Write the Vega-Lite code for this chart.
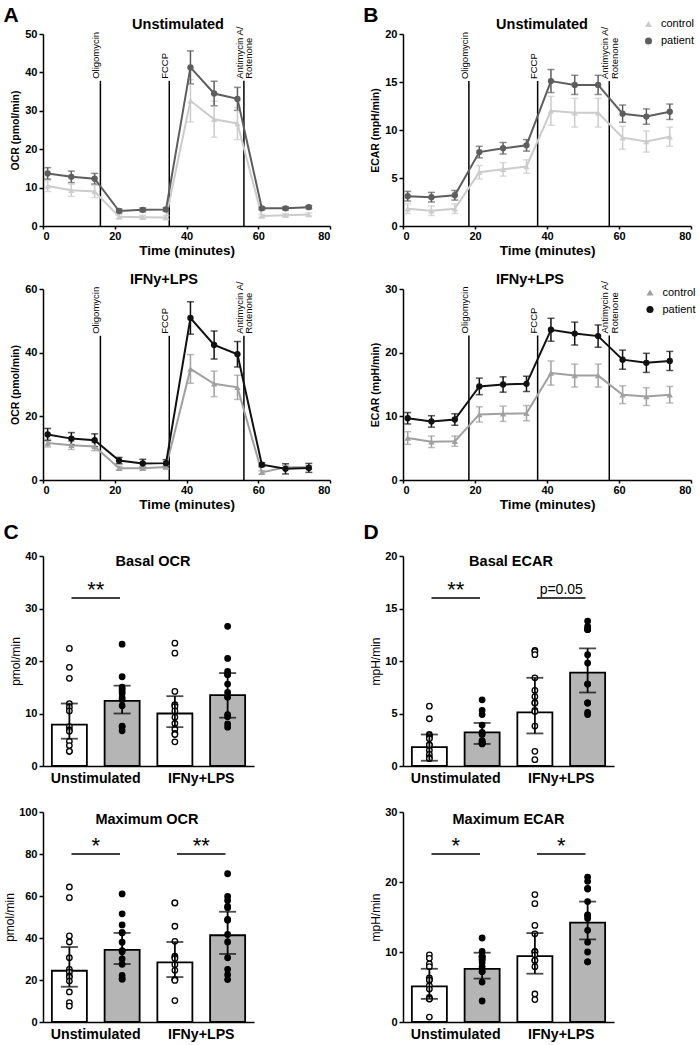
{
"$schema": "https://vega.github.io/schema/vega-lite/v6.json",
"background": "white",
"padding": {"left": 3, "top": 4, "right": 5, "bottom": 5},
"autosize": {"type": "pad"},
"bounds": "flush",
"columns": 2,
"align": "each",
"spacing": {"row": 20, "column": 73},
"resolve": {"scale": {"color": "independent", "fill": "independent", "stroke": "independent", "shape": "independent", "xOffset": "independent"}},
"config": {
  "font": "Liberation Sans",
  "view": {"stroke": null},
  "axis": {"grid": false, "domainColor": "#000", "domainWidth": 1.5, "tickColor": "#000", "tickWidth": 1.5, "tickSize": 4, "labelColor": "#000", "labelFont": "Liberation Sans", "labelFontWeight": "bold", "labelFontSize": 11, "labelPadding": 2, "titleColor": "#000", "titleFont": "Liberation Sans", "titleFontWeight": "bold"},
  "title": {"font": "Liberation Sans", "fontWeight": "bold", "fontSize": 14.5, "color": "#000", "anchor": "middle", "frame": "group", "offset": 0, "baseline": "alphabetic"},
  "legend": {"labelFont": "Liberation Sans", "labelColor": "#000", "labelFontSize": 11}
},
"datasets": {
  "injections": [
    {"assay": "OCR", "drug": "Oligomycin", "time": 16},
    {"assay": "OCR", "drug": "FCCP", "time": 35.2},
    {"assay": "OCR", "drug": "Antimycin A/\nRotenone", "time": 56},
    {"assay": "ECAR", "drug": "Oligomycin", "time": 18.3},
    {"assay": "ECAR", "drug": "FCCP", "time": 37.4},
    {"assay": "ECAR", "drug": "Antimycin A/\nRotenone", "time": 57.3}
  ],
  "seahorse": [
    {"assay":"OCR","condition":"Unstimulated","group":"control","time":1.3,"value":10.4,"err":1.4},
    {"assay":"OCR","condition":"Unstimulated","group":"control","time":7.9,"value":9.3,"err":1.6},
    {"assay":"OCR","condition":"Unstimulated","group":"control","time":14.4,"value":9.0,"err":1.6},
    {"assay":"OCR","condition":"Unstimulated","group":"control","time":21.2,"value":2.4,"err":0.5},
    {"assay":"OCR","condition":"Unstimulated","group":"control","time":27.8,"value":2.3,"err":0.5},
    {"assay":"OCR","condition":"Unstimulated","group":"control","time":34.3,"value":2.2,"err":0.5},
    {"assay":"OCR","condition":"Unstimulated","group":"control","time":41.1,"value":32.6,"err":5.5},
    {"assay":"OCR","condition":"Unstimulated","group":"control","time":47.7,"value":27.8,"err":4.7},
    {"assay":"OCR","condition":"Unstimulated","group":"control","time":54.2,"value":26.7,"err":4.2},
    {"assay":"OCR","condition":"Unstimulated","group":"control","time":61.0,"value":2.6,"err":0.4},
    {"assay":"OCR","condition":"Unstimulated","group":"control","time":67.6,"value":2.8,"err":0.4},
    {"assay":"OCR","condition":"Unstimulated","group":"control","time":74.1,"value":3.0,"err":0.4},
    {"assay":"OCR","condition":"Unstimulated","group":"patient","time":1.3,"value":13.7,"err":1.5},
    {"assay":"OCR","condition":"Unstimulated","group":"patient","time":7.9,"value":12.8,"err":1.5},
    {"assay":"OCR","condition":"Unstimulated","group":"patient","time":14.4,"value":12.3,"err":1.4},
    {"assay":"OCR","condition":"Unstimulated","group":"patient","time":21.2,"value":3.9,"err":0.5},
    {"assay":"OCR","condition":"Unstimulated","group":"patient","time":27.8,"value":4.2,"err":0.5},
    {"assay":"OCR","condition":"Unstimulated","group":"patient","time":34.3,"value":4.3,"err":0.5},
    {"assay":"OCR","condition":"Unstimulated","group":"patient","time":41.1,"value":41.3,"err":4.3},
    {"assay":"OCR","condition":"Unstimulated","group":"patient","time":47.7,"value":34.5,"err":3.2},
    {"assay":"OCR","condition":"Unstimulated","group":"patient","time":54.2,"value":33.1,"err":3.0},
    {"assay":"OCR","condition":"Unstimulated","group":"patient","time":61.0,"value":4.6,"err":0.4},
    {"assay":"OCR","condition":"Unstimulated","group":"patient","time":67.6,"value":4.6,"err":0.4},
    {"assay":"OCR","condition":"Unstimulated","group":"patient","time":74.1,"value":4.9,"err":0.4},
    {"assay":"ECAR","condition":"Unstimulated","group":"control","time":1.3,"value":1.8,"err":0.5},
    {"assay":"ECAR","condition":"Unstimulated","group":"control","time":7.9,"value":1.6,"err":0.5},
    {"assay":"ECAR","condition":"Unstimulated","group":"control","time":14.4,"value":1.8,"err":0.5},
    {"assay":"ECAR","condition":"Unstimulated","group":"control","time":21.2,"value":5.6,"err":0.7},
    {"assay":"ECAR","condition":"Unstimulated","group":"control","time":27.8,"value":5.9,"err":0.7},
    {"assay":"ECAR","condition":"Unstimulated","group":"control","time":34.3,"value":6.2,"err":0.7},
    {"assay":"ECAR","condition":"Unstimulated","group":"control","time":41.1,"value":12.0,"err":1.5},
    {"assay":"ECAR","condition":"Unstimulated","group":"control","time":47.7,"value":11.8,"err":1.5},
    {"assay":"ECAR","condition":"Unstimulated","group":"control","time":54.2,"value":11.8,"err":1.5},
    {"assay":"ECAR","condition":"Unstimulated","group":"control","time":61.0,"value":9.2,"err":1.2},
    {"assay":"ECAR","condition":"Unstimulated","group":"control","time":67.6,"value":8.8,"err":1.1},
    {"assay":"ECAR","condition":"Unstimulated","group":"control","time":74.1,"value":9.3,"err":1.0},
    {"assay":"ECAR","condition":"Unstimulated","group":"patient","time":1.3,"value":3.1,"err":0.5},
    {"assay":"ECAR","condition":"Unstimulated","group":"patient","time":7.9,"value":3.0,"err":0.5},
    {"assay":"ECAR","condition":"Unstimulated","group":"patient","time":14.4,"value":3.2,"err":0.5},
    {"assay":"ECAR","condition":"Unstimulated","group":"patient","time":21.2,"value":7.7,"err":0.6},
    {"assay":"ECAR","condition":"Unstimulated","group":"patient","time":27.8,"value":8.1,"err":0.6},
    {"assay":"ECAR","condition":"Unstimulated","group":"patient","time":34.3,"value":8.4,"err":0.6},
    {"assay":"ECAR","condition":"Unstimulated","group":"patient","time":41.1,"value":15.1,"err":1.2},
    {"assay":"ECAR","condition":"Unstimulated","group":"patient","time":47.7,"value":14.7,"err":1.0},
    {"assay":"ECAR","condition":"Unstimulated","group":"patient","time":54.2,"value":14.7,"err":1.0},
    {"assay":"ECAR","condition":"Unstimulated","group":"patient","time":61.0,"value":11.7,"err":0.9},
    {"assay":"ECAR","condition":"Unstimulated","group":"patient","time":67.6,"value":11.4,"err":0.8},
    {"assay":"ECAR","condition":"Unstimulated","group":"patient","time":74.1,"value":11.9,"err":0.8},
    {"assay":"OCR","condition":"IFNy+LPS","group":"control","time":1.3,"value":11.6,"err":1.2},
    {"assay":"OCR","condition":"IFNy+LPS","group":"control","time":7.9,"value":10.9,"err":1.3},
    {"assay":"OCR","condition":"IFNy+LPS","group":"control","time":14.4,"value":10.5,"err":1.3},
    {"assay":"OCR","condition":"IFNy+LPS","group":"control","time":21.2,"value":3.7,"err":0.6},
    {"assay":"OCR","condition":"IFNy+LPS","group":"control","time":27.8,"value":3.7,"err":0.5},
    {"assay":"OCR","condition":"IFNy+LPS","group":"control","time":34.3,"value":4.1,"err":0.5},
    {"assay":"OCR","condition":"IFNy+LPS","group":"control","time":41.1,"value":34.9,"err":4.5},
    {"assay":"OCR","condition":"IFNy+LPS","group":"control","time":47.7,"value":30.2,"err":4.0},
    {"assay":"OCR","condition":"IFNy+LPS","group":"control","time":54.2,"value":29.1,"err":3.8},
    {"assay":"OCR","condition":"IFNy+LPS","group":"control","time":61.0,"value":2.4,"err":0.5},
    {"assay":"OCR","condition":"IFNy+LPS","group":"control","time":67.6,"value":4.0,"err":0.5},
    {"assay":"OCR","condition":"IFNy+LPS","group":"control","time":74.1,"value":4.0,"err":0.5},
    {"assay":"OCR","condition":"IFNy+LPS","group":"patient","time":1.3,"value":14.3,"err":1.9},
    {"assay":"OCR","condition":"IFNy+LPS","group":"patient","time":7.9,"value":13.0,"err":1.9},
    {"assay":"OCR","condition":"IFNy+LPS","group":"patient","time":14.4,"value":12.5,"err":2.0},
    {"assay":"OCR","condition":"IFNy+LPS","group":"patient","time":21.2,"value":6.1,"err":1.0},
    {"assay":"OCR","condition":"IFNy+LPS","group":"patient","time":27.8,"value":5.2,"err":1.3},
    {"assay":"OCR","condition":"IFNy+LPS","group":"patient","time":34.3,"value":5.3,"err":1.1},
    {"assay":"OCR","condition":"IFNy+LPS","group":"patient","time":41.1,"value":50.9,"err":5.1},
    {"assay":"OCR","condition":"IFNy+LPS","group":"patient","time":47.7,"value":42.4,"err":4.4},
    {"assay":"OCR","condition":"IFNy+LPS","group":"patient","time":54.2,"value":39.5,"err":4.0},
    {"assay":"OCR","condition":"IFNy+LPS","group":"patient","time":61.0,"value":4.8,"err":0.6},
    {"assay":"OCR","condition":"IFNy+LPS","group":"patient","time":67.6,"value":3.5,"err":1.6},
    {"assay":"OCR","condition":"IFNy+LPS","group":"patient","time":74.1,"value":3.8,"err":1.4},
    {"assay":"ECAR","condition":"IFNy+LPS","group":"control","time":1.3,"value":6.6,"err":1.0},
    {"assay":"ECAR","condition":"IFNy+LPS","group":"control","time":7.9,"value":6.0,"err":0.9},
    {"assay":"ECAR","condition":"IFNy+LPS","group":"control","time":14.4,"value":6.1,"err":0.8},
    {"assay":"ECAR","condition":"IFNy+LPS","group":"control","time":21.2,"value":10.3,"err":1.2},
    {"assay":"ECAR","condition":"IFNy+LPS","group":"control","time":27.8,"value":10.4,"err":1.2},
    {"assay":"ECAR","condition":"IFNy+LPS","group":"control","time":34.3,"value":10.5,"err":1.2},
    {"assay":"ECAR","condition":"IFNy+LPS","group":"control","time":41.1,"value":16.8,"err":1.9},
    {"assay":"ECAR","condition":"IFNy+LPS","group":"control","time":47.7,"value":16.4,"err":1.8},
    {"assay":"ECAR","condition":"IFNy+LPS","group":"control","time":54.2,"value":16.4,"err":1.8},
    {"assay":"ECAR","condition":"IFNy+LPS","group":"control","time":61.0,"value":13.4,"err":1.4},
    {"assay":"ECAR","condition":"IFNy+LPS","group":"control","time":67.6,"value":13.1,"err":1.4},
    {"assay":"ECAR","condition":"IFNy+LPS","group":"control","time":74.1,"value":13.4,"err":1.3},
    {"assay":"ECAR","condition":"IFNy+LPS","group":"patient","time":1.3,"value":9.7,"err":0.9},
    {"assay":"ECAR","condition":"IFNy+LPS","group":"patient","time":7.9,"value":9.2,"err":0.9},
    {"assay":"ECAR","condition":"IFNy+LPS","group":"patient","time":14.4,"value":9.5,"err":0.9},
    {"assay":"ECAR","condition":"IFNy+LPS","group":"patient","time":21.2,"value":14.7,"err":1.3},
    {"assay":"ECAR","condition":"IFNy+LPS","group":"patient","time":27.8,"value":15.0,"err":1.2},
    {"assay":"ECAR","condition":"IFNy+LPS","group":"patient","time":34.3,"value":15.1,"err":1.2},
    {"assay":"ECAR","condition":"IFNy+LPS","group":"patient","time":41.1,"value":23.6,"err":1.8},
    {"assay":"ECAR","condition":"IFNy+LPS","group":"patient","time":47.7,"value":23.0,"err":1.8},
    {"assay":"ECAR","condition":"IFNy+LPS","group":"patient","time":54.2,"value":22.6,"err":1.75},
    {"assay":"ECAR","condition":"IFNy+LPS","group":"patient","time":61.0,"value":18.9,"err":1.5},
    {"assay":"ECAR","condition":"IFNy+LPS","group":"patient","time":67.6,"value":18.4,"err":1.5},
    {"assay":"ECAR","condition":"IFNy+LPS","group":"patient","time":74.1,"value":18.7,"err":1.5}
  ],
  "bars": [
    {"panel":"bo","condition":"Unstimulated","group":"control","median":7.9,"q1":5.2,"q3":11.9},
    {"panel":"bo","condition":"Unstimulated","group":"patient","median":12.4,"q1":10.0,"q3":15.3},
    {"panel":"bo","condition":"IFNy+LPS","group":"control","median":10.0,"q1":7.4,"q3":13.3},
    {"panel":"bo","condition":"IFNy+LPS","group":"patient","median":13.5,"q1":9.2,"q3":17.7},
    {"panel":"be","condition":"Unstimulated","group":"control","median":1.8,"q1":0.5,"q3":3.0},
    {"panel":"be","condition":"Unstimulated","group":"patient","median":3.2,"q1":2.1,"q3":4.1},
    {"panel":"be","condition":"IFNy+LPS","group":"control","median":5.1,"q1":3.1,"q3":8.4},
    {"panel":"be","condition":"IFNy+LPS","group":"patient","median":8.9,"q1":7.0,"q3":11.2},
    {"panel":"mo","condition":"Unstimulated","group":"control","median":24.4,"q1":16.8,"q3":35.7},
    {"panel":"mo","condition":"Unstimulated","group":"patient","median":34.3,"q1":27.6,"q3":42.4},
    {"panel":"mo","condition":"IFNy+LPS","group":"control","median":28.4,"q1":21.4,"q3":38.1},
    {"panel":"mo","condition":"IFNy+LPS","group":"patient","median":41.3,"q1":32.4,"q3":52.5},
    {"panel":"me","condition":"Unstimulated","group":"control","median":5.1,"q1":3.3,"q3":7.6},
    {"panel":"me","condition":"Unstimulated","group":"patient","median":7.6,"q1":6.2,"q3":9.9},
    {"panel":"me","condition":"IFNy+LPS","group":"control","median":9.4,"q1":6.9,"q3":12.7},
    {"panel":"me","condition":"IFNy+LPS","group":"patient","median":14.2,"q1":11.8,"q3":17.2}
  ],
  "sig": [
    {"panel":"bo","condition":"Unstimulated","label":"**"},
    {"panel":"be","condition":"Unstimulated","label":"**"},
    {"panel":"be","condition":"IFNy+LPS","label":"p=0.05"},
    {"panel":"mo","condition":"Unstimulated","label":"*"},
    {"panel":"mo","condition":"IFNy+LPS","label":"**"},
    {"panel":"me","condition":"Unstimulated","label":"*"},
    {"panel":"me","condition":"IFNy+LPS","label":"*"}
  ],
  "dots": [
    {"panel":"bo","condition":"Unstimulated","group":"control","value":22.4},
    {"panel":"bo","condition":"Unstimulated","group":"control","value":18.8},
    {"panel":"bo","condition":"Unstimulated","group":"control","value":16.7},
    {"panel":"bo","condition":"Unstimulated","group":"control","value":11.9},
    {"panel":"bo","condition":"Unstimulated","group":"control","value":11.2},
    {"panel":"bo","condition":"Unstimulated","group":"control","value":10.5},
    {"panel":"bo","condition":"Unstimulated","group":"control","value":7.5},
    {"panel":"bo","condition":"Unstimulated","group":"control","value":6.9},
    {"panel":"bo","condition":"Unstimulated","group":"control","value":6.6},
    {"panel":"bo","condition":"Unstimulated","group":"control","value":4.7},
    {"panel":"bo","condition":"Unstimulated","group":"control","value":3.9},
    {"panel":"bo","condition":"Unstimulated","group":"control","value":2.8},
    {"panel":"bo","condition":"Unstimulated","group":"control","value":2.8},
    {"panel":"bo","condition":"Unstimulated","group":"patient","value":23.2},
    {"panel":"bo","condition":"Unstimulated","group":"patient","value":17.0},
    {"panel":"bo","condition":"Unstimulated","group":"patient","value":15.0},
    {"panel":"bo","condition":"Unstimulated","group":"patient","value":14.6},
    {"panel":"bo","condition":"Unstimulated","group":"patient","value":14.2},
    {"panel":"bo","condition":"Unstimulated","group":"patient","value":13.8},
    {"panel":"bo","condition":"Unstimulated","group":"patient","value":13.0},
    {"panel":"bo","condition":"Unstimulated","group":"patient","value":12.6},
    {"panel":"bo","condition":"Unstimulated","group":"patient","value":11.5},
    {"panel":"bo","condition":"Unstimulated","group":"patient","value":7.6},
    {"panel":"bo","condition":"Unstimulated","group":"patient","value":7.5},
    {"panel":"bo","condition":"Unstimulated","group":"patient","value":6.7},
    {"panel":"bo","condition":"IFNy+LPS","group":"control","value":23.4},
    {"panel":"bo","condition":"IFNy+LPS","group":"control","value":21.5},
    {"panel":"bo","condition":"IFNy+LPS","group":"control","value":14.2},
    {"panel":"bo","condition":"IFNy+LPS","group":"control","value":11.7},
    {"panel":"bo","condition":"IFNy+LPS","group":"control","value":11.6},
    {"panel":"bo","condition":"IFNy+LPS","group":"control","value":11.3},
    {"panel":"bo","condition":"IFNy+LPS","group":"control","value":10.5},
    {"panel":"bo","condition":"IFNy+LPS","group":"control","value":9.3},
    {"panel":"bo","condition":"IFNy+LPS","group":"control","value":8.1},
    {"panel":"bo","condition":"IFNy+LPS","group":"control","value":7.0},
    {"panel":"bo","condition":"IFNy+LPS","group":"control","value":6.2},
    {"panel":"bo","condition":"IFNy+LPS","group":"control","value":6.0},
    {"panel":"bo","condition":"IFNy+LPS","group":"control","value":4.6},
    {"panel":"bo","condition":"IFNy+LPS","group":"patient","value":26.6},
    {"panel":"bo","condition":"IFNy+LPS","group":"patient","value":20.5},
    {"panel":"bo","condition":"IFNy+LPS","group":"patient","value":18.0},
    {"panel":"bo","condition":"IFNy+LPS","group":"patient","value":17.5},
    {"panel":"bo","condition":"IFNy+LPS","group":"patient","value":17.4},
    {"panel":"bo","condition":"IFNy+LPS","group":"patient","value":15.6},
    {"panel":"bo","condition":"IFNy+LPS","group":"patient","value":14.0},
    {"panel":"bo","condition":"IFNy+LPS","group":"patient","value":13.2},
    {"panel":"bo","condition":"IFNy+LPS","group":"patient","value":13.1},
    {"panel":"bo","condition":"IFNy+LPS","group":"patient","value":9.8},
    {"panel":"bo","condition":"IFNy+LPS","group":"patient","value":9.4},
    {"panel":"bo","condition":"IFNy+LPS","group":"patient","value":8.0},
    {"panel":"bo","condition":"IFNy+LPS","group":"patient","value":7.4},
    {"panel":"be","condition":"Unstimulated","group":"control","value":5.7},
    {"panel":"be","condition":"Unstimulated","group":"control","value":4.5},
    {"panel":"be","condition":"Unstimulated","group":"control","value":3.0},
    {"panel":"be","condition":"Unstimulated","group":"control","value":2.9},
    {"panel":"be","condition":"Unstimulated","group":"control","value":2.7},
    {"panel":"be","condition":"Unstimulated","group":"control","value":2.6},
    {"panel":"be","condition":"Unstimulated","group":"control","value":2.0},
    {"panel":"be","condition":"Unstimulated","group":"control","value":2.0},
    {"panel":"be","condition":"Unstimulated","group":"control","value":1.5},
    {"panel":"be","condition":"Unstimulated","group":"control","value":1.1},
    {"panel":"be","condition":"Unstimulated","group":"control","value":0.8},
    {"panel":"be","condition":"Unstimulated","group":"control","value":0.7},
    {"panel":"be","condition":"Unstimulated","group":"patient","value":6.3},
    {"panel":"be","condition":"Unstimulated","group":"patient","value":5.3},
    {"panel":"be","condition":"Unstimulated","group":"patient","value":4.9},
    {"panel":"be","condition":"Unstimulated","group":"patient","value":3.9},
    {"panel":"be","condition":"Unstimulated","group":"patient","value":3.2},
    {"panel":"be","condition":"Unstimulated","group":"patient","value":3.1},
    {"panel":"be","condition":"Unstimulated","group":"patient","value":3.0},
    {"panel":"be","condition":"Unstimulated","group":"patient","value":2.4},
    {"panel":"be","condition":"Unstimulated","group":"patient","value":2.4},
    {"panel":"be","condition":"Unstimulated","group":"patient","value":2.2},
    {"panel":"be","condition":"Unstimulated","group":"patient","value":2.2},
    {"panel":"be","condition":"Unstimulated","group":"patient","value":2.2},
    {"panel":"be","condition":"Unstimulated","group":"patient","value":2.1},
    {"panel":"be","condition":"IFNy+LPS","group":"control","value":11.0},
    {"panel":"be","condition":"IFNy+LPS","group":"control","value":10.9},
    {"panel":"be","condition":"IFNy+LPS","group":"control","value":10.6},
    {"panel":"be","condition":"IFNy+LPS","group":"control","value":8.4},
    {"panel":"be","condition":"IFNy+LPS","group":"control","value":7.2},
    {"panel":"be","condition":"IFNy+LPS","group":"control","value":6.6},
    {"panel":"be","condition":"IFNy+LPS","group":"control","value":6.0},
    {"panel":"be","condition":"IFNy+LPS","group":"control","value":6.0},
    {"panel":"be","condition":"IFNy+LPS","group":"control","value":5.3},
    {"panel":"be","condition":"IFNy+LPS","group":"control","value":5.2},
    {"panel":"be","condition":"IFNy+LPS","group":"control","value":3.8},
    {"panel":"be","condition":"IFNy+LPS","group":"control","value":1.4},
    {"panel":"be","condition":"IFNy+LPS","group":"control","value":0.6},
    {"panel":"be","condition":"IFNy+LPS","group":"patient","value":13.8},
    {"panel":"be","condition":"IFNy+LPS","group":"patient","value":13.3},
    {"panel":"be","condition":"IFNy+LPS","group":"patient","value":13.0},
    {"panel":"be","condition":"IFNy+LPS","group":"patient","value":13.0},
    {"panel":"be","condition":"IFNy+LPS","group":"patient","value":13.0},
    {"panel":"be","condition":"IFNy+LPS","group":"patient","value":10.6},
    {"panel":"be","condition":"IFNy+LPS","group":"patient","value":9.8},
    {"panel":"be","condition":"IFNy+LPS","group":"patient","value":7.8},
    {"panel":"be","condition":"IFNy+LPS","group":"patient","value":7.8},
    {"panel":"be","condition":"IFNy+LPS","group":"patient","value":6.0},
    {"panel":"be","condition":"IFNy+LPS","group":"patient","value":6.0},
    {"panel":"be","condition":"IFNy+LPS","group":"patient","value":5.1},
    {"panel":"be","condition":"IFNy+LPS","group":"patient","value":4.9},
    {"panel":"mo","condition":"Unstimulated","group":"control","value":64.3},
    {"panel":"mo","condition":"Unstimulated","group":"control","value":59.2},
    {"panel":"mo","condition":"Unstimulated","group":"control","value":41.0},
    {"panel":"mo","condition":"Unstimulated","group":"control","value":38.1},
    {"panel":"mo","condition":"Unstimulated","group":"control","value":30.6},
    {"panel":"mo","condition":"Unstimulated","group":"control","value":25.1},
    {"panel":"mo","condition":"Unstimulated","group":"control","value":23.8},
    {"panel":"mo","condition":"Unstimulated","group":"control","value":21.9},
    {"panel":"mo","condition":"Unstimulated","group":"control","value":21.4},
    {"panel":"mo","condition":"Unstimulated","group":"control","value":19.5},
    {"panel":"mo","condition":"Unstimulated","group":"control","value":14.3},
    {"panel":"mo","condition":"Unstimulated","group":"control","value":9.2},
    {"panel":"mo","condition":"Unstimulated","group":"control","value":7.6},
    {"panel":"mo","condition":"Unstimulated","group":"patient","value":61.0},
    {"panel":"mo","condition":"Unstimulated","group":"patient","value":51.5},
    {"panel":"mo","condition":"Unstimulated","group":"patient","value":46.2},
    {"panel":"mo","condition":"Unstimulated","group":"patient","value":42.5},
    {"panel":"mo","condition":"Unstimulated","group":"patient","value":42.5},
    {"panel":"mo","condition":"Unstimulated","group":"patient","value":38.0},
    {"panel":"mo","condition":"Unstimulated","group":"patient","value":34.0},
    {"panel":"mo","condition":"Unstimulated","group":"patient","value":33.5},
    {"panel":"mo","condition":"Unstimulated","group":"patient","value":30.0},
    {"panel":"mo","condition":"Unstimulated","group":"patient","value":27.5},
    {"panel":"mo","condition":"Unstimulated","group":"patient","value":22.2},
    {"panel":"mo","condition":"Unstimulated","group":"patient","value":20.6},
    {"panel":"mo","condition":"Unstimulated","group":"patient","value":20.4},
    {"panel":"mo","condition":"IFNy+LPS","group":"control","value":56.7},
    {"panel":"mo","condition":"IFNy+LPS","group":"control","value":56.7},
    {"panel":"mo","condition":"IFNy+LPS","group":"control","value":45.6},
    {"panel":"mo","condition":"IFNy+LPS","group":"control","value":38.4},
    {"panel":"mo","condition":"IFNy+LPS","group":"control","value":31.4},
    {"panel":"mo","condition":"IFNy+LPS","group":"control","value":30.8},
    {"panel":"mo","condition":"IFNy+LPS","group":"control","value":30.2},
    {"panel":"mo","condition":"IFNy+LPS","group":"control","value":27.3},
    {"panel":"mo","condition":"IFNy+LPS","group":"control","value":24.6},
    {"panel":"mo","condition":"IFNy+LPS","group":"control","value":20.2},
    {"panel":"mo","condition":"IFNy+LPS","group":"control","value":20.2},
    {"panel":"mo","condition":"IFNy+LPS","group":"control","value":19.8},
    {"panel":"mo","condition":"IFNy+LPS","group":"control","value":10.2},
    {"panel":"mo","condition":"IFNy+LPS","group":"patient","value":70.6},
    {"panel":"mo","condition":"IFNy+LPS","group":"patient","value":59.8},
    {"panel":"mo","condition":"IFNy+LPS","group":"patient","value":57.9},
    {"panel":"mo","condition":"IFNy+LPS","group":"patient","value":55.1},
    {"panel":"mo","condition":"IFNy+LPS","group":"patient","value":54.4},
    {"panel":"mo","condition":"IFNy+LPS","group":"patient","value":48.9},
    {"panel":"mo","condition":"IFNy+LPS","group":"patient","value":48.4},
    {"panel":"mo","condition":"IFNy+LPS","group":"patient","value":41.7},
    {"panel":"mo","condition":"IFNy+LPS","group":"patient","value":38.1},
    {"panel":"mo","condition":"IFNy+LPS","group":"patient","value":30.6},
    {"panel":"mo","condition":"IFNy+LPS","group":"patient","value":25.1},
    {"panel":"mo","condition":"IFNy+LPS","group":"patient","value":22.5},
    {"panel":"mo","condition":"IFNy+LPS","group":"patient","value":20.2},
    {"panel":"me","condition":"Unstimulated","group":"control","value":9.6},
    {"panel":"me","condition":"Unstimulated","group":"control","value":9.1},
    {"panel":"me","condition":"Unstimulated","group":"control","value":8.3},
    {"panel":"me","condition":"Unstimulated","group":"control","value":7.9},
    {"panel":"me","condition":"Unstimulated","group":"control","value":6.3},
    {"panel":"me","condition":"Unstimulated","group":"control","value":6.0},
    {"panel":"me","condition":"Unstimulated","group":"control","value":6.0},
    {"panel":"me","condition":"Unstimulated","group":"control","value":5.2},
    {"panel":"me","condition":"Unstimulated","group":"control","value":4.7},
    {"panel":"me","condition":"Unstimulated","group":"control","value":3.5},
    {"panel":"me","condition":"Unstimulated","group":"control","value":3.3},
    {"panel":"me","condition":"Unstimulated","group":"control","value":3.3},
    {"panel":"me","condition":"Unstimulated","group":"control","value":0.7},
    {"panel":"me","condition":"Unstimulated","group":"patient","value":12.0},
    {"panel":"me","condition":"Unstimulated","group":"patient","value":10.1},
    {"panel":"me","condition":"Unstimulated","group":"patient","value":9.4},
    {"panel":"me","condition":"Unstimulated","group":"patient","value":9.4},
    {"panel":"me","condition":"Unstimulated","group":"patient","value":9.3},
    {"panel":"me","condition":"Unstimulated","group":"patient","value":9.0},
    {"panel":"me","condition":"Unstimulated","group":"patient","value":8.9},
    {"panel":"me","condition":"Unstimulated","group":"patient","value":8.5},
    {"panel":"me","condition":"Unstimulated","group":"patient","value":7.9},
    {"panel":"me","condition":"Unstimulated","group":"patient","value":7.2},
    {"panel":"me","condition":"Unstimulated","group":"patient","value":7.2},
    {"panel":"me","condition":"Unstimulated","group":"patient","value":5.7},
    {"panel":"me","condition":"Unstimulated","group":"patient","value":3.0},
    {"panel":"me","condition":"IFNy+LPS","group":"control","value":18.2},
    {"panel":"me","condition":"IFNy+LPS","group":"control","value":16.9},
    {"panel":"me","condition":"IFNy+LPS","group":"control","value":13.8},
    {"panel":"me","condition":"IFNy+LPS","group":"control","value":12.6},
    {"panel":"me","condition":"IFNy+LPS","group":"control","value":10.1},
    {"panel":"me","condition":"IFNy+LPS","group":"control","value":10.0},
    {"panel":"me","condition":"IFNy+LPS","group":"control","value":10.0},
    {"panel":"me","condition":"IFNy+LPS","group":"control","value":9.6},
    {"panel":"me","condition":"IFNy+LPS","group":"control","value":8.8},
    {"panel":"me","condition":"IFNy+LPS","group":"control","value":8.8},
    {"panel":"me","condition":"IFNy+LPS","group":"control","value":7.9},
    {"panel":"me","condition":"IFNy+LPS","group":"control","value":4.0},
    {"panel":"me","condition":"IFNy+LPS","group":"control","value":3.2},
    {"panel":"me","condition":"IFNy+LPS","group":"patient","value":20.7},
    {"panel":"me","condition":"IFNy+LPS","group":"patient","value":20.1},
    {"panel":"me","condition":"IFNy+LPS","group":"patient","value":19.1},
    {"panel":"me","condition":"IFNy+LPS","group":"patient","value":19.0},
    {"panel":"me","condition":"IFNy+LPS","group":"patient","value":17.2},
    {"panel":"me","condition":"IFNy+LPS","group":"patient","value":15.3},
    {"panel":"me","condition":"IFNy+LPS","group":"patient","value":15.2},
    {"panel":"me","condition":"IFNy+LPS","group":"patient","value":14.8},
    {"panel":"me","condition":"IFNy+LPS","group":"patient","value":13.1},
    {"panel":"me","condition":"IFNy+LPS","group":"patient","value":11.4},
    {"panel":"me","condition":"IFNy+LPS","group":"patient","value":10.0},
    {"panel":"me","condition":"IFNy+LPS","group":"patient","value":8.6},
    {"panel":"me","condition":"IFNy+LPS","group":"patient","value":8.6}
  ]
},
"concat": [
  {
    "width": 287, "height": 192,
    "title": {"text": "Unstimulated", "dx": -8.5, "dy": 31.3},
    "resolve": {"axis": {"x": "independent", "y": "independent"}},
    "layer": [
      {"data": {"name": "injections"}, "transform": [{"filter": {"field": "assay", "equal": "OCR"}}],
       "mark": {"type": "rule", "color": "#000", "strokeWidth": 1.5},
       "encoding": {
         "x": {"field": "time", "type": "quantitative", "scale": {"domain": [0, 80], "nice": false}, "axis": {"orient": "top", "title": "A", "labels": false, "ticks": false, "domain": false, "titleX": -40, "titleY": -12.3, "titleAlign": "left", "titleBaseline": "alphabetic", "titleAngle": 0, "titleFontSize": 21}},
         "y": {"datum": 0, "type": "quantitative", "scale": {"domain": [0, 50], "nice": false}, "axis": null},
         "y2": {"datum": 37.8}}},
      {"data": {"name": "injections"}, "transform": [{"filter": {"field": "assay", "equal": "OCR"}}],
       "mark": {"type": "text", "angle": 270, "align": "left", "baseline": "alphabetic", "dx": 2, "dy": -1, "font": "Liberation Sans", "fontSize": 9.5, "lineBreak": "\n", "lineHeight": 9.5, "color": "#000"},
       "encoding": {
         "x": {"field": "time", "type": "quantitative", "scale": {"domain": [0, 80], "nice": false}, "axis": null},
         "y": {"datum": 37.8, "type": "quantitative", "scale": {"domain": [0, 50], "nice": false}, "axis": null},
         "text": {"field": "drug"}}},
      {"data": {"name": "seahorse"}, "transform": [{"filter": "datum.assay === 'OCR' && datum.condition === 'Unstimulated'"}],
       "mark": {"type": "errorbar", "ticks": true, "size": 7, "thickness": 1.5},
       "encoding": {
         "x": {"field": "time", "type": "quantitative", "scale": {"domain": [0, 80], "nice": false}, "axis": null},
         "y": {"field": "value", "type": "quantitative", "scale": {"domain": [0, 50], "nice": false}, "axis": null},
         "yError": {"field": "err"},
         "color": {"field": "group", "type": "nominal", "scale": {"domain": ["patient", "control"], "range": ["#5e5e5e", "#cccccc"]}, "legend": null}}},
      {"data": {"name": "seahorse"}, "transform": [{"filter": "datum.assay === 'OCR' && datum.condition === 'Unstimulated'"}],
       "mark": {"type": "line", "strokeWidth": 2},
       "encoding": {
         "x": {"field": "time", "type": "quantitative", "scale": {"domain": [0, 80], "nice": false}, "axis": {"values": [0, 20, 40, 60, 80], "title": "Time (minutes)", "titleFontSize": 13.5, "labelPadding": 1, "titlePadding": 2, "tickSize": 3}},
         "y": {"field": "value", "type": "quantitative", "scale": {"domain": [0, 50], "nice": false}, "axis": {"values": [0, 10, 20, 30, 40, 50], "title": "OCR (pmol/min)", "titleFontSize": 10.5, "titlePadding": 4}},
         "stroke": {"field": "group", "type": "nominal", "scale": {"domain": ["patient", "control"], "range": ["#5e5e5e", "#cccccc"]}, "legend": null}}},
      {"data": {"name": "seahorse"}, "transform": [{"filter": "datum.assay === 'OCR' && datum.condition === 'Unstimulated'"}],
       "mark": {"type": "point", "filled": true, "opacity": 1, "size": 40},
       "encoding": {
         "x": {"field": "time", "type": "quantitative", "scale": {"domain": [0, 80], "nice": false}, "axis": null},
         "y": {"field": "value", "type": "quantitative", "scale": {"domain": [0, 50], "nice": false}, "axis": null},
         "fill": {"field": "group", "type": "nominal", "scale": {"domain": ["control", "patient"], "range": ["#cccccc", "#5e5e5e"]}, "legend": null},
         "shape": {"field": "group", "type": "nominal", "scale": {"domain": ["control", "patient"], "range": ["triangle-up", "circle"]}, "legend": null}}}
    ]
  },
  {
    "width": 288, "height": 192,
    "title": {"text": "Unstimulated", "dx": -5, "dy": 31.3},
    "resolve": {"axis": {"x": "independent", "y": "independent"}},
    "layer": [
      {"data": {"name": "injections"}, "transform": [{"filter": {"field": "assay", "equal": "ECAR"}}],
       "mark": {"type": "rule", "color": "#000", "strokeWidth": 1.5},
       "encoding": {
         "x": {"field": "time", "type": "quantitative", "scale": {"domain": [0, 80], "nice": false}, "axis": {"orient": "top", "title": "B", "labels": false, "ticks": false, "domain": false, "titleX": -40.3, "titleY": -12.3, "titleAlign": "left", "titleBaseline": "alphabetic", "titleAngle": 0, "titleFontSize": 21}},
         "y": {"datum": 0, "type": "quantitative", "scale": {"domain": [0, 20], "nice": false}, "axis": null},
         "y2": {"datum": 15.1}}},
      {"data": {"name": "injections"}, "transform": [{"filter": {"field": "assay", "equal": "ECAR"}}],
       "mark": {"type": "text", "angle": 270, "align": "left", "baseline": "alphabetic", "dx": 2, "dy": -1, "font": "Liberation Sans", "fontSize": 9.5, "lineBreak": "\n", "lineHeight": 9.5, "color": "#000"},
       "encoding": {
         "x": {"field": "time", "type": "quantitative", "scale": {"domain": [0, 80], "nice": false}, "axis": null},
         "y": {"datum": 15.1, "type": "quantitative", "scale": {"domain": [0, 20], "nice": false}, "axis": null},
         "text": {"field": "drug"}}},
      {"data": {"name": "seahorse"}, "transform": [{"filter": "datum.assay === 'ECAR' && datum.condition === 'Unstimulated'"}],
       "mark": {"type": "errorbar", "ticks": true, "size": 7, "thickness": 1.5},
       "encoding": {
         "x": {"field": "time", "type": "quantitative", "scale": {"domain": [0, 80], "nice": false}, "axis": null},
         "y": {"field": "value", "type": "quantitative", "scale": {"domain": [0, 20], "nice": false}, "axis": null},
         "yError": {"field": "err"},
         "color": {"field": "group", "type": "nominal", "scale": {"domain": ["patient", "control"], "range": ["#5e5e5e", "#cccccc"]}, "legend": null}}},
      {"data": {"name": "seahorse"}, "transform": [{"filter": "datum.assay === 'ECAR' && datum.condition === 'Unstimulated'"}],
       "mark": {"type": "line", "strokeWidth": 2},
       "encoding": {
         "x": {"field": "time", "type": "quantitative", "scale": {"domain": [0, 80], "nice": false}, "axis": {"values": [0, 20, 40, 60, 80], "title": "Time (minutes)", "titleFontSize": 13.5, "labelPadding": 1, "titlePadding": 2, "tickSize": 3}},
         "y": {"field": "value", "type": "quantitative", "scale": {"domain": [0, 20], "nice": false}, "axis": {"values": [0, 5, 10, 15, 20], "title": "ECAR (mpH/min)", "titleFontSize": 10.5, "titlePadding": 4}},
         "stroke": {"field": "group", "type": "nominal", "scale": {"domain": ["patient", "control"], "range": ["#5e5e5e", "#cccccc"]}, "legend": null}}},
      {"data": {"name": "seahorse"}, "transform": [{"filter": "datum.assay === 'ECAR' && datum.condition === 'Unstimulated'"}],
       "mark": {"type": "point", "filled": true, "opacity": 1, "size": 40},
       "encoding": {
         "x": {"field": "time", "type": "quantitative", "scale": {"domain": [0, 80], "nice": false}, "axis": null},
         "y": {"field": "value", "type": "quantitative", "scale": {"domain": [0, 20], "nice": false}, "axis": null},
         "fill": {"field": "group", "type": "nominal", "scale": {"domain": ["control", "patient"], "range": ["#cccccc", "#5e5e5e"]}, "legend": {"orient": "none", "legendX": 240, "legendY": -15.5, "title": null, "padding": 0, "rowPadding": 3, "labelOffset": 7, "symbolSize": 50, "labelFontSize": 11}},
         "shape": {"field": "group", "type": "nominal", "scale": {"domain": ["control", "patient"], "range": ["triangle-up", "circle"]}, "legend": {"orient": "none", "legendX": 240, "legendY": -15.5, "title": null, "padding": 0, "rowPadding": 3, "labelOffset": 7, "symbolSize": 50, "labelFontSize": 11}}}}
    ]
  },
  {
    "width": 287, "height": 234,
    "title": {"text": "IFNy+LPS", "dx": -22.5, "dy": 45},
    "resolve": {"axis": {"x": "independent", "y": "independent"}},
    "layer": [
      {"data": {"name": "injections"}, "transform": [{"filter": {"field": "assay", "equal": "OCR"}}],
       "mark": {"type": "rule", "color": "#000", "strokeWidth": 1.5},
       "encoding": {
         "x": {"field": "time", "type": "quantitative", "scale": {"domain": [0, 80], "nice": false}, "axis": null},
         "y": {"datum": 0, "type": "quantitative", "scale": {"domain": [0, 60], "nice": false, "range": [234, 43]}, "axis": null},
         "y2": {"datum": 45.3}}},
      {"data": {"name": "injections"}, "transform": [{"filter": {"field": "assay", "equal": "OCR"}}],
       "mark": {"type": "text", "angle": 270, "align": "left", "baseline": "alphabetic", "dx": 2, "dy": -1, "font": "Liberation Sans", "fontSize": 9.5, "lineBreak": "\n", "lineHeight": 9.5, "color": "#000"},
       "encoding": {
         "x": {"field": "time", "type": "quantitative", "scale": {"domain": [0, 80], "nice": false}, "axis": null},
         "y": {"datum": 45.3, "type": "quantitative", "scale": {"domain": [0, 60], "nice": false, "range": [234, 43]}, "axis": null},
         "text": {"field": "drug"}}},
      {"data": {"name": "seahorse"}, "transform": [{"filter": "datum.assay === 'OCR' && datum.condition === 'IFNy+LPS'"}],
       "mark": {"type": "errorbar", "ticks": true, "size": 7, "thickness": 1.5},
       "encoding": {
         "x": {"field": "time", "type": "quantitative", "scale": {"domain": [0, 80], "nice": false}, "axis": null},
         "y": {"field": "value", "type": "quantitative", "scale": {"domain": [0, 60], "nice": false, "range": [234, 43]}, "axis": null},
         "yError": {"field": "err"},
         "color": {"field": "group", "type": "nominal", "scale": {"domain": ["patient", "control"], "range": ["#111111", "#a0a0a0"]}, "legend": null}}},
      {"data": {"name": "seahorse"}, "transform": [{"filter": "datum.assay === 'OCR' && datum.condition === 'IFNy+LPS'"}],
       "mark": {"type": "line", "strokeWidth": 2},
       "encoding": {
         "x": {"field": "time", "type": "quantitative", "scale": {"domain": [0, 80], "nice": false}, "axis": {"values": [0, 20, 40, 60, 80], "title": "Time (minutes)", "titleFontSize": 13.5, "labelPadding": 1, "titlePadding": 2, "tickSize": 3}},
         "y": {"field": "value", "type": "quantitative", "scale": {"domain": [0, 60], "nice": false, "range": [234, 43]}, "axis": {"values": [0, 20, 40, 60], "title": "OCR (pmol/min)", "titleFontSize": 10.5, "titlePadding": 4}},
         "stroke": {"field": "group", "type": "nominal", "scale": {"domain": ["patient", "control"], "range": ["#111111", "#a0a0a0"]}, "legend": null}}},
      {"data": {"name": "seahorse"}, "transform": [{"filter": "datum.assay === 'OCR' && datum.condition === 'IFNy+LPS'"}],
       "mark": {"type": "point", "filled": true, "opacity": 1, "size": 40},
       "encoding": {
         "x": {"field": "time", "type": "quantitative", "scale": {"domain": [0, 80], "nice": false}, "axis": null},
         "y": {"field": "value", "type": "quantitative", "scale": {"domain": [0, 60], "nice": false, "range": [234, 43]}, "axis": null},
         "fill": {"field": "group", "type": "nominal", "scale": {"domain": ["control", "patient"], "range": ["#a0a0a0", "#111111"]}, "legend": null},
         "shape": {"field": "group", "type": "nominal", "scale": {"domain": ["control", "patient"], "range": ["triangle-up", "circle"]}, "legend": null}}}
    ]
  },
  {
    "width": 288, "height": 234,
    "title": {"text": "IFNy+LPS", "dx": -17, "dy": 45},
    "resolve": {"axis": {"x": "independent", "y": "independent"}},
    "layer": [
      {"data": {"name": "injections"}, "transform": [{"filter": {"field": "assay", "equal": "ECAR"}}],
       "mark": {"type": "rule", "color": "#000", "strokeWidth": 1.5},
       "encoding": {
         "x": {"field": "time", "type": "quantitative", "scale": {"domain": [0, 80], "nice": false}, "axis": null},
         "y": {"datum": 0, "type": "quantitative", "scale": {"domain": [0, 30], "nice": false, "range": [234, 43]}, "axis": null},
         "y2": {"datum": 22.7}}},
      {"data": {"name": "injections"}, "transform": [{"filter": {"field": "assay", "equal": "ECAR"}}],
       "mark": {"type": "text", "angle": 270, "align": "left", "baseline": "alphabetic", "dx": 2, "dy": -1, "font": "Liberation Sans", "fontSize": 9.5, "lineBreak": "\n", "lineHeight": 9.5, "color": "#000"},
       "encoding": {
         "x": {"field": "time", "type": "quantitative", "scale": {"domain": [0, 80], "nice": false}, "axis": null},
         "y": {"datum": 22.7, "type": "quantitative", "scale": {"domain": [0, 30], "nice": false, "range": [234, 43]}, "axis": null},
         "text": {"field": "drug"}}},
      {"data": {"name": "seahorse"}, "transform": [{"filter": "datum.assay === 'ECAR' && datum.condition === 'IFNy+LPS'"}],
       "mark": {"type": "errorbar", "ticks": true, "size": 7, "thickness": 1.5},
       "encoding": {
         "x": {"field": "time", "type": "quantitative", "scale": {"domain": [0, 80], "nice": false}, "axis": null},
         "y": {"field": "value", "type": "quantitative", "scale": {"domain": [0, 30], "nice": false, "range": [234, 43]}, "axis": null},
         "yError": {"field": "err"},
         "color": {"field": "group", "type": "nominal", "scale": {"domain": ["patient", "control"], "range": ["#111111", "#a0a0a0"]}, "legend": null}}},
      {"data": {"name": "seahorse"}, "transform": [{"filter": "datum.assay === 'ECAR' && datum.condition === 'IFNy+LPS'"}],
       "mark": {"type": "line", "strokeWidth": 2},
       "encoding": {
         "x": {"field": "time", "type": "quantitative", "scale": {"domain": [0, 80], "nice": false}, "axis": {"values": [0, 20, 40, 60, 80], "title": "Time (minutes)", "titleFontSize": 13.5, "labelPadding": 1, "titlePadding": 2, "tickSize": 3}},
         "y": {"field": "value", "type": "quantitative", "scale": {"domain": [0, 30], "nice": false, "range": [234, 43]}, "axis": {"values": [0, 10, 20, 30], "title": "ECAR (mpH/min)", "titleFontSize": 10.5, "titlePadding": 4}},
         "stroke": {"field": "group", "type": "nominal", "scale": {"domain": ["patient", "control"], "range": ["#111111", "#a0a0a0"]}, "legend": null}}},
      {"data": {"name": "seahorse"}, "transform": [{"filter": "datum.assay === 'ECAR' && datum.condition === 'IFNy+LPS'"}],
       "mark": {"type": "point", "filled": true, "opacity": 1, "size": 40},
       "encoding": {
         "x": {"field": "time", "type": "quantitative", "scale": {"domain": [0, 80], "nice": false}, "axis": null},
         "y": {"field": "value", "type": "quantitative", "scale": {"domain": [0, 30], "nice": false, "range": [234, 43]}, "axis": null},
         "fill": {"field": "group", "type": "nominal", "scale": {"domain": ["control", "patient"], "range": ["#a0a0a0", "#111111"]}, "legend": {"orient": "none", "legendX": 241.5, "legendY": 41, "title": null, "padding": 0, "rowPadding": 3, "labelOffset": 7, "symbolSize": 50, "labelFontSize": 11}},
         "shape": {"field": "group", "type": "nominal", "scale": {"domain": ["control", "patient"], "range": ["triangle-up", "circle"]}, "legend": {"orient": "none", "legendX": 241.5, "legendY": 41, "title": null, "padding": 0, "rowPadding": 3, "labelOffset": 7, "symbolSize": 50, "labelFontSize": 11}}}}
    ]
  },
  {
    "width": 211, "height": 266,
    "title": {"text": "Basal OCR", "dx": 4.5, "dy": 73.5},
    "resolve": {"axis": {"x": "independent", "y": "independent"}},
    "layer": [
      {"data": {"name": "bars"}, "transform": [{"filter": {"field": "panel", "equal": "bo"}}],
       "mark": {"type": "bar", "stroke": "#000", "strokeWidth": 1.8},
       "encoding": {
         "x": {"field": "condition", "type": "nominal", "scale": {"domain": ["Unstimulated", "IFNy+LPS"], "paddingInner": 0, "paddingOuter": 0}, "axis": {"title": null, "labelFontSize": 14.2, "ticks": false, "tickSize": 0, "labelPadding": 5, "labelAngle": 0}},
         "xOffset": {"field": "group", "type": "nominal", "scale": {"domain": ["control", "patient"], "paddingInner": 0.336, "paddingOuter": 0.168}},
         "y": {"field": "median", "type": "quantitative", "scale": {"domain": [0, 40], "nice": false, "range": [266, 56]}, "axis": {"values": [0, 10, 20, 30, 40], "title": "pmol/min", "titleFontWeight": "normal", "titleFontSize": 12, "titlePadding": 2}},
         "fill": {"field": "group", "type": "nominal", "scale": {"domain": ["control", "patient"], "range": ["#ffffff", "#b5b5b5"]}, "legend": null}}},
      {"data": {"name": "dots"}, "transform": [{"filter": {"field": "panel", "equal": "bo"}}],
       "mark": {"type": "point", "filled": true, "stroke": "#000", "strokeWidth": 1.3, "size": 30, "opacity": 1},
       "encoding": {
         "x": {"field": "condition", "type": "nominal", "scale": {"domain": ["Unstimulated", "IFNy+LPS"], "paddingInner": 0, "paddingOuter": 0}, "axis": null},
         "xOffset": {"field": "group", "type": "nominal", "scale": {"domain": ["control", "patient"], "paddingInner": 0.336, "paddingOuter": 0.168}},
         "y": {"field": "value", "type": "quantitative", "scale": {"domain": [0, 40], "nice": false, "range": [266, 56]}, "axis": null},
         "color": {"field": "group", "type": "nominal", "scale": {"domain": ["control", "patient"], "range": ["#ffffff", "#000000"]}, "legend": null}}},
      {"data": {"name": "bars"}, "transform": [{"filter": {"field": "panel", "equal": "bo"}}],
       "mark": {"type": "rule", "color": "#000", "strokeWidth": 1.8},
       "encoding": {
         "x": {"field": "condition", "type": "nominal", "scale": {"domain": ["Unstimulated", "IFNy+LPS"], "paddingInner": 0, "paddingOuter": 0}, "axis": null},
         "xOffset": {"field": "group", "type": "nominal", "scale": {"domain": ["control", "patient"], "paddingInner": 0.336, "paddingOuter": 0.168}},
         "y": {"field": "q1", "type": "quantitative", "scale": {"domain": [0, 40], "nice": false, "range": [266, 56]}, "axis": null},
         "y2": {"field": "q3"}}},
      {"data": {"name": "bars"}, "transform": [{"filter": {"field": "panel", "equal": "bo"}}],
       "mark": {"type": "tick", "color": "#000", "thickness": 1.8, "size": 17},
       "encoding": {
         "x": {"field": "condition", "type": "nominal", "scale": {"domain": ["Unstimulated", "IFNy+LPS"], "paddingInner": 0, "paddingOuter": 0}, "axis": null},
         "xOffset": {"field": "group", "type": "nominal", "scale": {"domain": ["control", "patient"], "paddingInner": 0.336, "paddingOuter": 0.168}},
         "y": {"field": "q1", "type": "quantitative", "scale": {"domain": [0, 40], "nice": false, "range": [266, 56]}, "axis": null}}},
      {"data": {"name": "bars"}, "transform": [{"filter": {"field": "panel", "equal": "bo"}}],
       "mark": {"type": "tick", "color": "#000", "thickness": 1.8, "size": 17},
       "encoding": {
         "x": {"field": "condition", "type": "nominal", "scale": {"domain": ["Unstimulated", "IFNy+LPS"], "paddingInner": 0, "paddingOuter": 0}, "axis": null},
         "xOffset": {"field": "group", "type": "nominal", "scale": {"domain": ["control", "patient"], "paddingInner": 0.336, "paddingOuter": 0.168}},
         "y": {"field": "q3", "type": "quantitative", "scale": {"domain": [0, 40], "nice": false, "range": [266, 56]}, "axis": null}}},
      {"data": {"name": "sig"}, "transform": [{"filter": {"field": "panel", "equal": "bo"}}],
       "mark": {"type": "rule", "color": "#000", "strokeWidth": 1.5},
       "encoding": {
         "x": {"field": "condition", "type": "nominal", "bandPosition": 0.27, "scale": {"domain": ["Unstimulated", "IFNy+LPS"], "paddingInner": 0, "paddingOuter": 0}, "axis": {"orient": "top", "title": "C", "labels": false, "ticks": false, "domain": false, "titleX": -40, "titleY": 38, "titleAlign": "left", "titleBaseline": "alphabetic", "titleAngle": 0, "titleFontSize": 21}},
         "x2": {"field": "condition", "bandPosition": 0.73},
         "y": {"datum": 32, "type": "quantitative", "scale": {"domain": [0, 40], "nice": false, "range": [266, 56]}, "axis": null}}},
      {"data": {"name": "sig"}, "transform": [{"filter": {"field": "panel", "equal": "bo"}}, {"filter": "datum.label !== 'p=0.05'"}],
       "mark": {"type": "text", "fontSize": 22, "dy": -1.5, "baseline": "alphabetic", "color": "#000"},
       "encoding": {
         "x": {"field": "condition", "type": "nominal", "scale": {"domain": ["Unstimulated", "IFNy+LPS"], "paddingInner": 0, "paddingOuter": 0}, "axis": null},
         "y": {"datum": 32, "type": "quantitative", "scale": {"domain": [0, 40], "nice": false, "range": [266, 56]}, "axis": null},
         "text": {"field": "label"}}}
    ]
  },
  {
    "width": 211, "height": 266,
    "title": {"text": "Basal ECAR", "dx": 2.5, "dy": 73.5},
    "resolve": {"axis": {"x": "independent", "y": "independent"}},
    "layer": [
      {"data": {"name": "bars"}, "transform": [{"filter": {"field": "panel", "equal": "be"}}],
       "mark": {"type": "bar", "stroke": "#000", "strokeWidth": 1.8},
       "encoding": {
         "x": {"field": "condition", "type": "nominal", "scale": {"domain": ["Unstimulated", "IFNy+LPS"], "paddingInner": 0, "paddingOuter": 0}, "axis": {"title": null, "labelFontSize": 14.2, "ticks": false, "tickSize": 0, "labelPadding": 5, "labelAngle": 0}},
         "xOffset": {"field": "group", "type": "nominal", "scale": {"domain": ["control", "patient"], "paddingInner": 0.336, "paddingOuter": 0.168}},
         "y": {"field": "median", "type": "quantitative", "scale": {"domain": [0, 20], "nice": false, "range": [266, 56]}, "axis": {"values": [0, 5, 10, 15, 20], "title": "mpH/min", "titleFontWeight": "normal", "titleFontSize": 12, "titlePadding": 2}},
         "fill": {"field": "group", "type": "nominal", "scale": {"domain": ["control", "patient"], "range": ["#ffffff", "#b5b5b5"]}, "legend": null}}},
      {"data": {"name": "dots"}, "transform": [{"filter": {"field": "panel", "equal": "be"}}],
       "mark": {"type": "point", "filled": true, "stroke": "#000", "strokeWidth": 1.3, "size": 30, "opacity": 1},
       "encoding": {
         "x": {"field": "condition", "type": "nominal", "scale": {"domain": ["Unstimulated", "IFNy+LPS"], "paddingInner": 0, "paddingOuter": 0}, "axis": null},
         "xOffset": {"field": "group", "type": "nominal", "scale": {"domain": ["control", "patient"], "paddingInner": 0.336, "paddingOuter": 0.168}},
         "y": {"field": "value", "type": "quantitative", "scale": {"domain": [0, 20], "nice": false, "range": [266, 56]}, "axis": null},
         "color": {"field": "group", "type": "nominal", "scale": {"domain": ["control", "patient"], "range": ["#ffffff", "#000000"]}, "legend": null}}},
      {"data": {"name": "bars"}, "transform": [{"filter": {"field": "panel", "equal": "be"}}],
       "mark": {"type": "rule", "color": "#000", "strokeWidth": 1.8},
       "encoding": {
         "x": {"field": "condition", "type": "nominal", "scale": {"domain": ["Unstimulated", "IFNy+LPS"], "paddingInner": 0, "paddingOuter": 0}, "axis": null},
         "xOffset": {"field": "group", "type": "nominal", "scale": {"domain": ["control", "patient"], "paddingInner": 0.336, "paddingOuter": 0.168}},
         "y": {"field": "q1", "type": "quantitative", "scale": {"domain": [0, 20], "nice": false, "range": [266, 56]}, "axis": null},
         "y2": {"field": "q3"}}},
      {"data": {"name": "bars"}, "transform": [{"filter": {"field": "panel", "equal": "be"}}],
       "mark": {"type": "tick", "color": "#000", "thickness": 1.8, "size": 17},
       "encoding": {
         "x": {"field": "condition", "type": "nominal", "scale": {"domain": ["Unstimulated", "IFNy+LPS"], "paddingInner": 0, "paddingOuter": 0}, "axis": null},
         "xOffset": {"field": "group", "type": "nominal", "scale": {"domain": ["control", "patient"], "paddingInner": 0.336, "paddingOuter": 0.168}},
         "y": {"field": "q1", "type": "quantitative", "scale": {"domain": [0, 20], "nice": false, "range": [266, 56]}, "axis": null}}},
      {"data": {"name": "bars"}, "transform": [{"filter": {"field": "panel", "equal": "be"}}],
       "mark": {"type": "tick", "color": "#000", "thickness": 1.8, "size": 17},
       "encoding": {
         "x": {"field": "condition", "type": "nominal", "scale": {"domain": ["Unstimulated", "IFNy+LPS"], "paddingInner": 0, "paddingOuter": 0}, "axis": null},
         "xOffset": {"field": "group", "type": "nominal", "scale": {"domain": ["control", "patient"], "paddingInner": 0.336, "paddingOuter": 0.168}},
         "y": {"field": "q3", "type": "quantitative", "scale": {"domain": [0, 20], "nice": false, "range": [266, 56]}, "axis": null}}},
      {"data": {"name": "sig"}, "transform": [{"filter": {"field": "panel", "equal": "be"}}],
       "mark": {"type": "rule", "color": "#000", "strokeWidth": 1.5},
       "encoding": {
         "x": {"field": "condition", "type": "nominal", "bandPosition": 0.27, "scale": {"domain": ["Unstimulated", "IFNy+LPS"], "paddingInner": 0, "paddingOuter": 0}, "axis": {"orient": "top", "title": "D", "labels": false, "ticks": false, "domain": false, "titleX": -40, "titleY": 38, "titleAlign": "left", "titleBaseline": "alphabetic", "titleAngle": 0, "titleFontSize": 21}},
         "x2": {"field": "condition", "bandPosition": 0.73},
         "y": {"datum": 16, "type": "quantitative", "scale": {"domain": [0, 20], "nice": false, "range": [266, 56]}, "axis": null}}},
      {"data": {"name": "sig"}, "transform": [{"filter": {"field": "panel", "equal": "be"}}, {"filter": "datum.label !== 'p=0.05'"}],
       "mark": {"type": "text", "fontSize": 22, "dy": -1.5, "baseline": "alphabetic", "color": "#000"},
       "encoding": {
         "x": {"field": "condition", "type": "nominal", "scale": {"domain": ["Unstimulated", "IFNy+LPS"], "paddingInner": 0, "paddingOuter": 0}, "axis": null},
         "y": {"datum": 16, "type": "quantitative", "scale": {"domain": [0, 20], "nice": false, "range": [266, 56]}, "axis": null},
         "text": {"field": "label"}}},
      {"data": {"name": "sig"}, "transform": [{"filter": {"field": "panel", "equal": "be"}}, {"filter": "datum.label === 'p=0.05'"}],
       "mark": {"type": "text", "fontSize": 14, "dy": -4.5, "baseline": "alphabetic", "color": "#000"},
       "encoding": {
         "x": {"field": "condition", "type": "nominal", "scale": {"domain": ["Unstimulated", "IFNy+LPS"], "paddingInner": 0, "paddingOuter": 0}, "axis": null},
         "y": {"datum": 16, "type": "quantitative", "scale": {"domain": [0, 20], "nice": false, "range": [266, 56]}, "axis": null},
         "text": {"field": "label"}}}
    ]
  },
  {
    "width": 211, "height": 236,
    "title": {"text": "Maximum OCR", "dx": -1.5, "dy": 45},
    "resolve": {"axis": {"x": "independent", "y": "independent"}},
    "layer": [
      {"data": {"name": "bars"}, "transform": [{"filter": {"field": "panel", "equal": "mo"}}],
       "mark": {"type": "bar", "stroke": "#000", "strokeWidth": 1.8},
       "encoding": {
         "x": {"field": "condition", "type": "nominal", "scale": {"domain": ["Unstimulated", "IFNy+LPS"], "paddingInner": 0, "paddingOuter": 0}, "axis": {"title": null, "labelFontSize": 14.2, "ticks": false, "tickSize": 0, "labelPadding": 5, "labelAngle": 0}},
         "xOffset": {"field": "group", "type": "nominal", "scale": {"domain": ["control", "patient"], "paddingInner": 0.336, "paddingOuter": 0.168}},
         "y": {"field": "median", "type": "quantitative", "scale": {"domain": [0, 100], "nice": false, "range": [236, 26]}, "axis": {"values": [0, 20, 40, 60, 80, 100], "title": "pmol/min", "titleFontWeight": "normal", "titleFontSize": 12, "titlePadding": 2}},
         "fill": {"field": "group", "type": "nominal", "scale": {"domain": ["control", "patient"], "range": ["#ffffff", "#b5b5b5"]}, "legend": null}}},
      {"data": {"name": "dots"}, "transform": [{"filter": {"field": "panel", "equal": "mo"}}],
       "mark": {"type": "point", "filled": true, "stroke": "#000", "strokeWidth": 1.3, "size": 30, "opacity": 1},
       "encoding": {
         "x": {"field": "condition", "type": "nominal", "scale": {"domain": ["Unstimulated", "IFNy+LPS"], "paddingInner": 0, "paddingOuter": 0}, "axis": null},
         "xOffset": {"field": "group", "type": "nominal", "scale": {"domain": ["control", "patient"], "paddingInner": 0.336, "paddingOuter": 0.168}},
         "y": {"field": "value", "type": "quantitative", "scale": {"domain": [0, 100], "nice": false, "range": [236, 26]}, "axis": null},
         "color": {"field": "group", "type": "nominal", "scale": {"domain": ["control", "patient"], "range": ["#ffffff", "#000000"]}, "legend": null}}},
      {"data": {"name": "bars"}, "transform": [{"filter": {"field": "panel", "equal": "mo"}}],
       "mark": {"type": "rule", "color": "#000", "strokeWidth": 1.8},
       "encoding": {
         "x": {"field": "condition", "type": "nominal", "scale": {"domain": ["Unstimulated", "IFNy+LPS"], "paddingInner": 0, "paddingOuter": 0}, "axis": null},
         "xOffset": {"field": "group", "type": "nominal", "scale": {"domain": ["control", "patient"], "paddingInner": 0.336, "paddingOuter": 0.168}},
         "y": {"field": "q1", "type": "quantitative", "scale": {"domain": [0, 100], "nice": false, "range": [236, 26]}, "axis": null},
         "y2": {"field": "q3"}}},
      {"data": {"name": "bars"}, "transform": [{"filter": {"field": "panel", "equal": "mo"}}],
       "mark": {"type": "tick", "color": "#000", "thickness": 1.8, "size": 17},
       "encoding": {
         "x": {"field": "condition", "type": "nominal", "scale": {"domain": ["Unstimulated", "IFNy+LPS"], "paddingInner": 0, "paddingOuter": 0}, "axis": null},
         "xOffset": {"field": "group", "type": "nominal", "scale": {"domain": ["control", "patient"], "paddingInner": 0.336, "paddingOuter": 0.168}},
         "y": {"field": "q1", "type": "quantitative", "scale": {"domain": [0, 100], "nice": false, "range": [236, 26]}, "axis": null}}},
      {"data": {"name": "bars"}, "transform": [{"filter": {"field": "panel", "equal": "mo"}}],
       "mark": {"type": "tick", "color": "#000", "thickness": 1.8, "size": 17},
       "encoding": {
         "x": {"field": "condition", "type": "nominal", "scale": {"domain": ["Unstimulated", "IFNy+LPS"], "paddingInner": 0, "paddingOuter": 0}, "axis": null},
         "xOffset": {"field": "group", "type": "nominal", "scale": {"domain": ["control", "patient"], "paddingInner": 0.336, "paddingOuter": 0.168}},
         "y": {"field": "q3", "type": "quantitative", "scale": {"domain": [0, 100], "nice": false, "range": [236, 26]}, "axis": null}}},
      {"data": {"name": "sig"}, "transform": [{"filter": {"field": "panel", "equal": "mo"}}],
       "mark": {"type": "rule", "color": "#000", "strokeWidth": 1.5},
       "encoding": {
         "x": {"field": "condition", "type": "nominal", "bandPosition": 0.27, "scale": {"domain": ["Unstimulated", "IFNy+LPS"], "paddingInner": 0, "paddingOuter": 0}, "axis": null},
         "x2": {"field": "condition", "bandPosition": 0.73},
         "y": {"datum": 80, "type": "quantitative", "scale": {"domain": [0, 100], "nice": false, "range": [236, 26]}, "axis": null}}},
      {"data": {"name": "sig"}, "transform": [{"filter": {"field": "panel", "equal": "mo"}}],
       "mark": {"type": "text", "fontSize": 22, "dy": -1.5, "baseline": "alphabetic", "color": "#000"},
       "encoding": {
         "x": {"field": "condition", "type": "nominal", "scale": {"domain": ["Unstimulated", "IFNy+LPS"], "paddingInner": 0, "paddingOuter": 0}, "axis": null},
         "y": {"datum": 80, "type": "quantitative", "scale": {"domain": [0, 100], "nice": false, "range": [236, 26]}, "axis": null},
         "text": {"field": "label"}}}
    ]
  },
  {
    "width": 211, "height": 236,
    "title": {"text": "Maximum ECAR", "dx": 0, "dy": 45},
    "resolve": {"axis": {"x": "independent", "y": "independent"}},
    "layer": [
      {"data": {"name": "bars"}, "transform": [{"filter": {"field": "panel", "equal": "me"}}],
       "mark": {"type": "bar", "stroke": "#000", "strokeWidth": 1.8},
       "encoding": {
         "x": {"field": "condition", "type": "nominal", "scale": {"domain": ["Unstimulated", "IFNy+LPS"], "paddingInner": 0, "paddingOuter": 0}, "axis": {"title": null, "labelFontSize": 14.2, "ticks": false, "tickSize": 0, "labelPadding": 5, "labelAngle": 0}},
         "xOffset": {"field": "group", "type": "nominal", "scale": {"domain": ["control", "patient"], "paddingInner": 0.336, "paddingOuter": 0.168}},
         "y": {"field": "median", "type": "quantitative", "scale": {"domain": [0, 30], "nice": false, "range": [236, 26]}, "axis": {"values": [0, 10, 20, 30], "title": "mpH/min", "titleFontWeight": "normal", "titleFontSize": 12, "titlePadding": 2}},
         "fill": {"field": "group", "type": "nominal", "scale": {"domain": ["control", "patient"], "range": ["#ffffff", "#b5b5b5"]}, "legend": null}}},
      {"data": {"name": "dots"}, "transform": [{"filter": {"field": "panel", "equal": "me"}}],
       "mark": {"type": "point", "filled": true, "stroke": "#000", "strokeWidth": 1.3, "size": 30, "opacity": 1},
       "encoding": {
         "x": {"field": "condition", "type": "nominal", "scale": {"domain": ["Unstimulated", "IFNy+LPS"], "paddingInner": 0, "paddingOuter": 0}, "axis": null},
         "xOffset": {"field": "group", "type": "nominal", "scale": {"domain": ["control", "patient"], "paddingInner": 0.336, "paddingOuter": 0.168}},
         "y": {"field": "value", "type": "quantitative", "scale": {"domain": [0, 30], "nice": false, "range": [236, 26]}, "axis": null},
         "color": {"field": "group", "type": "nominal", "scale": {"domain": ["control", "patient"], "range": ["#ffffff", "#000000"]}, "legend": null}}},
      {"data": {"name": "bars"}, "transform": [{"filter": {"field": "panel", "equal": "me"}}],
       "mark": {"type": "rule", "color": "#000", "strokeWidth": 1.8},
       "encoding": {
         "x": {"field": "condition", "type": "nominal", "scale": {"domain": ["Unstimulated", "IFNy+LPS"], "paddingInner": 0, "paddingOuter": 0}, "axis": null},
         "xOffset": {"field": "group", "type": "nominal", "scale": {"domain": ["control", "patient"], "paddingInner": 0.336, "paddingOuter": 0.168}},
         "y": {"field": "q1", "type": "quantitative", "scale": {"domain": [0, 30], "nice": false, "range": [236, 26]}, "axis": null},
         "y2": {"field": "q3"}}},
      {"data": {"name": "bars"}, "transform": [{"filter": {"field": "panel", "equal": "me"}}],
       "mark": {"type": "tick", "color": "#000", "thickness": 1.8, "size": 17},
       "encoding": {
         "x": {"field": "condition", "type": "nominal", "scale": {"domain": ["Unstimulated", "IFNy+LPS"], "paddingInner": 0, "paddingOuter": 0}, "axis": null},
         "xOffset": {"field": "group", "type": "nominal", "scale": {"domain": ["control", "patient"], "paddingInner": 0.336, "paddingOuter": 0.168}},
         "y": {"field": "q1", "type": "quantitative", "scale": {"domain": [0, 30], "nice": false, "range": [236, 26]}, "axis": null}}},
      {"data": {"name": "bars"}, "transform": [{"filter": {"field": "panel", "equal": "me"}}],
       "mark": {"type": "tick", "color": "#000", "thickness": 1.8, "size": 17},
       "encoding": {
         "x": {"field": "condition", "type": "nominal", "scale": {"domain": ["Unstimulated", "IFNy+LPS"], "paddingInner": 0, "paddingOuter": 0}, "axis": null},
         "xOffset": {"field": "group", "type": "nominal", "scale": {"domain": ["control", "patient"], "paddingInner": 0.336, "paddingOuter": 0.168}},
         "y": {"field": "q3", "type": "quantitative", "scale": {"domain": [0, 30], "nice": false, "range": [236, 26]}, "axis": null}}},
      {"data": {"name": "sig"}, "transform": [{"filter": {"field": "panel", "equal": "me"}}],
       "mark": {"type": "rule", "color": "#000", "strokeWidth": 1.5},
       "encoding": {
         "x": {"field": "condition", "type": "nominal", "bandPosition": 0.27, "scale": {"domain": ["Unstimulated", "IFNy+LPS"], "paddingInner": 0, "paddingOuter": 0}, "axis": null},
         "x2": {"field": "condition", "bandPosition": 0.73},
         "y": {"datum": 24, "type": "quantitative", "scale": {"domain": [0, 30], "nice": false, "range": [236, 26]}, "axis": null}}},
      {"data": {"name": "sig"}, "transform": [{"filter": {"field": "panel", "equal": "me"}}],
       "mark": {"type": "text", "fontSize": 22, "dy": -1.5, "baseline": "alphabetic", "color": "#000"},
       "encoding": {
         "x": {"field": "condition", "type": "nominal", "scale": {"domain": ["Unstimulated", "IFNy+LPS"], "paddingInner": 0, "paddingOuter": 0}, "axis": null},
         "y": {"datum": 24, "type": "quantitative", "scale": {"domain": [0, 30], "nice": false, "range": [236, 26]}, "axis": null},
         "text": {"field": "label"}}}
    ]
  }
]
}
